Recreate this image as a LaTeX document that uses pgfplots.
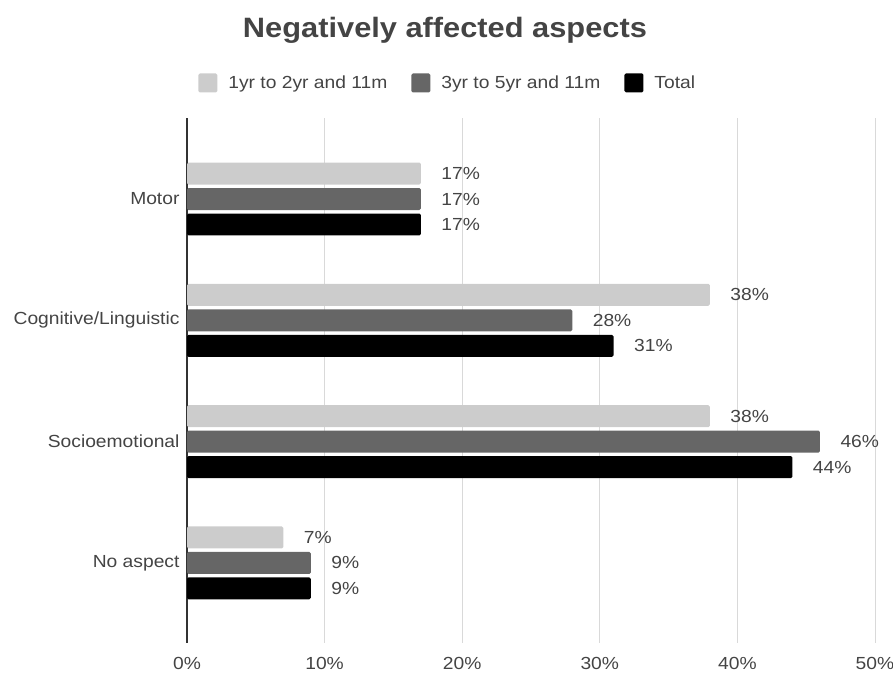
\documentclass[border=0pt]{standalone}
\usepackage{pgfplots}
\pgfplotsset{compat=1.18}
\usepackage{fontspec}
\setmainfont[FakeStretch=1.1]{Liberation Sans}

\definecolor{lightbar}{HTML}{CCCCCC}
\definecolor{midbar}{HTML}{666666}
\definecolor{txt}{HTML}{444444}
\definecolor{gridc}{HTML}{D9D9D9}
\definecolor{axisc}{HTML}{333333}

\newcommand{\lblfont}{\fontsize{17.5}{20}\selectfont}

\begin{document}
\begin{tikzpicture}[x=1pt,y=1pt]
\useasboundingbox (0,0) rectangle (893,674);
\begin{axis}[
  at={(187pt,31pt)}, anchor=south west,
  scale only axis, width=688pt, height=525pt,
  xbar, bar width=0.181,
  xmin=0, xmax=50,
  ymin=-0.668, ymax=3.66, y dir=reverse,
  ytick={0,1,2,3},
  yticklabels={Motor,Cognitive/Linguistic,Socioemotional,No aspect},
  xtick={10,20,30,40,50},
  extra x ticks={0},
  extra x tick style={grid style={color=axisc, line width=1.2pt}},
  xticklabel={\pgfmathprintnumber{\tick}\%},
  /pgf/number format/assume math mode=true,
  xmajorgrids, grid style={color=gridc, line width=1pt},
  axis line style={draw=none},
  major tick length=0pt,
  tick label style={font=\lblfont, color=txt},
  xticklabel style={yshift=-11pt},
  yticklabel style={xshift=-4pt},
  nodes near coords={\pgfmathprintnumber{\pgfplotspointmeta}\%},
  point meta=explicit,
  nodes near coords style={anchor=west, xshift=17pt, font=\lblfont, color=txt},
  legend style={at={(0.379,1.0667)}, anchor=center, draw=none, fill=none,
    legend columns=3, font=\lblfont, text=txt,
    /tikz/every even column/.append style={column sep=22pt}},
  legend image code/.code={\fill[#1, rounded corners=1.5pt] (0pt,-9.5pt) rectangle (19pt,9.5pt);},
]
\addplot[fill=lightbar, draw=none, rounded corners=1.5pt, bar shift=-0.21]
  coordinates {(17,0) [17] (38,1) [38] (38,2) [38] (7,3) [7]};
\addlegendentry{\hspace{9pt}1yr to 2yr and 11m}
\addplot[fill=midbar, draw=none, rounded corners=1.5pt, bar shift=0]
  coordinates {(17,0) [17] (28,1) [28] (46,2) [46] (9,3) [9]};
\addlegendentry{\hspace{9pt}3yr to 5yr and 11m}
\addplot[fill=black, draw=none, rounded corners=1.5pt, bar shift=0.21]
  coordinates {(17,0) [17] (31,1) [31] (44,2) [44] (9,3) [9]};
\addlegendentry{\hspace{9pt}Total}
\end{axis}
\node[font=\bfseries\fontsize{28}{32}\selectfont, color=txt] at (445,644) {Negatively affected aspects};
\end{tikzpicture}
\end{document}
